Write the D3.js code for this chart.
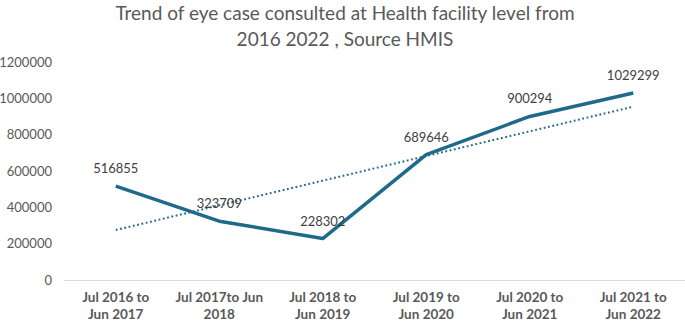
<!doctype html>
<html lang="en">
    <head>
        <meta charset="utf-8">
        <title>Eye cases trend</title>
        <script type="text/javascript" src="https://cdn.jsdelivr.net/npm/d3@7"></script>
        <style>
            body { margin: 0; background: #fff; }
            text { font-family: Lato, "Open Sans", sans-serif; }
        </style>
    </head>
    <body>
        <script type="text/javascript">
            var categories = [
                ["Jul 2016 to", "Jun 2017"],
                ["Jul 2017to Jun", "2018"],
                ["Jul 2018 to", "Jun 2019"],
                ["Jul 2019 to", "Jun 2020"],
                ["Jul 2020 to", "Jun 2021"],
                ["Jul 2021 to", "Jun 2022"]
            ];
            var cases = [516855, 323709, 228302, 689646, 900294, 1029299];
            var yTicks = [0, 200000, 400000, 600000, 800000, 1000000, 1200000];
            var titleLines = ["Trend of eye case consulted at Health facility level from",
                              "2016 2022 , Source HMIS"];

            var svgW = 685, svgH = 321;
            var lineColor = "#1f6a8b";

            var svg = d3.select("body")
                        .append("svg")
                        .attr("width", svgW)
                        .attr("height", svgH);

            var xScale = d3.scaleBand()
                           .domain(d3.range(categories.length))
                           .range([64, 685]);
            var yScale = d3.scaleLinear()
                           .domain([0, 1200000])
                           .range([280, 62]);

            var cx = i => xScale(i) + xScale.bandwidth() / 2;

            // title
            svg.selectAll(".title")
               .data(titleLines)
               .enter()
               .append("text")
               .attr("class", "title")
               .attr("x", 345)
               .attr("y", (d, i) => 20 + i * 26)
               .attr("text-anchor", "middle")
               .attr("font-size", 19)
               .attr("fill", "#595959")
               .text(d => d);

            // y axis labels
            var yAxis = d3.axisLeft(yScale)
                          .tickValues(yTicks)
                          .tickFormat(d3.format("d"))
                          .tickSize(0)
                          .tickPadding(0);
            var gy = svg.append("g")
                        .attr("transform", "translate(52, 0)")
                        .call(yAxis);
            gy.select(".domain").remove();
            gy.selectAll("text")
              .attr("font-size", 13)
              .attr("fill", "#595959")
              .attr("font-family", "Lato, sans-serif");

            // baseline + category labels
            var xAxis = d3.axisBottom(xScale).tickSize(0).tickFormat("");
            var gx = svg.append("g")
                        .attr("transform", "translate(0, " + yScale(0) + ")")
                        .call(xAxis);
            gx.select(".domain").attr("stroke", "#d9d9d9").attr("stroke-width", 1.2);

            var catLabels = svg.selectAll(".cat")
                               .data(categories)
                               .enter()
                               .append("text")
                               .attr("class", "cat")
                               .attr("text-anchor", "middle")
                               .attr("font-size", 13.5)
                               .attr("font-weight", "bold")
                               .attr("fill", "#595959");
            catLabels.selectAll("tspan")
                     .data((d, i) => d.map(s => ({s: s, i: i})))
                     .enter()
                     .append("tspan")
                     .attr("x", d => cx(d.i))
                     .attr("y", (d, j) => 302 + j * 17)
                     .text(d => d.s);

            // linear trendline fitted to the series
            var xs = cases.map((d, i) => i + 1);
            var mx = d3.mean(xs), my = d3.mean(cases);
            var slope = d3.sum(xs, (x, i) => (x - mx) * (cases[i] - my)) /
                        d3.sum(xs, x => (x - mx) * (x - mx));
            var trend = cases.map((d, i) => my + slope * (xs[i] - mx));

            var line = d3.line()
                         .x((d, i) => cx(i))
                         .y(d => yScale(d));

            svg.append("path")
               .datum(trend)
               .attr("fill", "none")
               .attr("stroke", lineColor)
               .attr("stroke-width", 2)
               .attr("stroke-dasharray", "1.8,2.6")
               .attr("d", line);

            svg.append("path")
               .datum(cases)
               .attr("fill", "none")
               .attr("stroke", lineColor)
               .attr("stroke-width", 3.5)
               .attr("stroke-linejoin", "round")
               .attr("d", line);

            // data labels
            svg.selectAll(".val")
               .data(cases)
               .enter()
               .append("text")
               .attr("class", "val")
               .attr("x", (d, i) => cx(i))
               .attr("y", d => yScale(d) - 13)
               .attr("text-anchor", "middle")
               .attr("font-size", 13)
               .attr("fill", "#404040")
               .text(d => d);
        </script>
    </body>
</html>
